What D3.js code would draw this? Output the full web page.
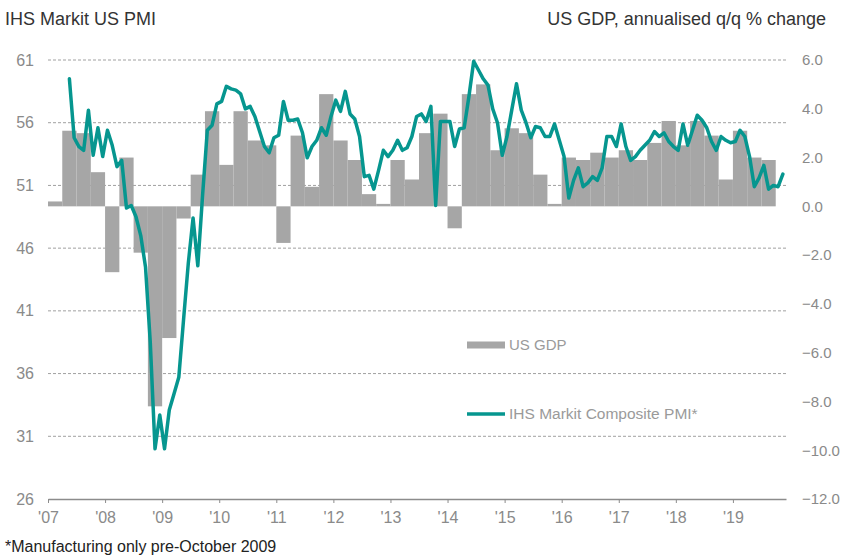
<!DOCTYPE html>
<html><head><meta charset="utf-8">
<script src="https://cdn.jsdelivr.net/npm/d3@7"></script>
<style>
body{margin:0;background:#fff;}
svg{font-family:"Liberation Sans",Arial,sans-serif;}
</style></head>
<body><svg id="c" width="844" height="556"></svg>
<script>
// ---- data ----
const yearLabels = ["'07","'08","'09","'10","'11","'12","'13","'14","'15","'16","'17","'18","'19"];
const leftTicks = [26,31,36,41,46,51,56,61];
const rightTicks = [6,4,2,0,-2,-4,-6,-8,-10,-12];
// US GDP, annualised q/q % change, quarterly from 2007 Q1
const gdpStart = 2007;
const gdpValues = [
  0.2, 3.1, 3.0, 1.4,
  -2.7, 2.0, -1.9, -8.2,
  -5.4, -0.5, 1.3, 3.9,
  1.7, 3.9, 2.7, 2.5,
  -1.5, 2.9, 0.8, 4.6,
  2.7, 1.9, 0.5, 0.1,
  1.9, 1.1, 3.0, 3.8,
  -0.9, 4.6, 5.0, 2.3,
  3.2, 3.0, 1.3, 0.1,
  2.0, 1.9, 2.2, 2.0,
  2.3, 1.9, 2.6, 3.5,
  2.5, 3.5, 2.9, 1.1,
  3.1, 2.0, 1.9
];
// IHS Markit Composite PMI (manufacturing only pre-Oct 2009), monthly from May 2007
const pmiStartYear = 2007, pmiStartMonth = 4;
const pmiValues = [
  59.5, 54.8, 54.1, 53.8, 57.0, 53.4, 55.6, 53.3,
  55.4, 54.2, 52.5, 53.0, 49.2, 49.4, 48.5, 47.0, 44.5, 38.5, 30.0, 32.7,
  30.0, 33.1, 34.4, 35.7, 40.3, 44.8, 48.4, 44.6, 50.2, 55.4, 55.8, 57.5,
  57.7, 58.9, 58.7, 58.6, 58.3, 57.1, 57.3, 56.5, 55.3, 54.1, 53.6, 54.8,
  55.0, 57.7, 56.2, 56.2, 56.3, 55.2, 53.2, 54.1, 54.6, 55.6, 55.0, 56.5,
  57.8, 56.9, 58.5, 56.7, 56.3, 54.9, 51.7, 51.8, 50.7, 52.2, 53.8, 53.3,
  53.8, 54.6, 53.8, 54.0, 54.9, 56.5, 56.7, 56.1, 57.3, 49.4, 56.1, 56.1,
  56.1, 54.1, 55.5, 55.6, 58.1, 60.9, 60.2, 59.5, 59.0, 57.1, 56.0, 53.4,
  54.9, 57.0, 59.1, 57.0, 56.0, 54.8, 55.7, 55.6, 54.9, 54.9, 55.9, 54.6,
  53.3, 50.0, 51.4, 52.4, 50.9, 51.2, 51.7, 51.4, 52.4, 54.9, 54.9, 54.1,
  55.9, 54.1, 53.0, 53.3, 53.8, 54.2, 54.6, 55.3, 54.9, 55.2, 54.5, 54.1,
  53.8, 55.9, 54.2, 55.4, 56.6, 56.2, 55.6, 54.5, 53.8, 54.9, 54.6, 54.4,
  54.5, 55.4, 54.9, 53.3, 50.9, 51.6, 52.6, 50.7, 51.0, 50.9, 51.9
];
const titleLeft = "IHS Markit US PMI";
const titleRight = "US GDP, annualised q/q % change";
const footnote = "*Manufacturing only pre-October 2009";
const legendGdp = "US GDP";
const legendPmi = "IHS Markit Composite PMI*";

// ---- chart ----
const svg = d3.select("#c");
const pLeft = 48, pRight = 786, pTop = 60, pBottom = 499;
const x = d3.scaleLinear().domain([2007, 2019.93]).range([pLeft, pRight]);
const yL = d3.scaleLinear().domain([26, 61]).range([pBottom, pTop]);
const yR = d3.scaleLinear().domain([-12, 6]).range([pBottom, pTop]);
const teal = "#06968f", barCol = "#a6a6a6", labCol = "#8a8a8a";

// gridlines
svg.append("g").selectAll("line").data(leftTicks.filter(d => d > 26)).join("line")
  .attr("x1", pLeft).attr("x2", pRight)
  .attr("y1", d => yL(d)).attr("y2", d => yL(d))
  .attr("stroke", "#a0a0a0").attr("stroke-width", 1).attr("stroke-dasharray", "3,2");

// GDP bars
const gdp = gdpValues.map((v, i) => ({t: gdpStart + i / 4, v}));
svg.append("g").selectAll("rect").data(gdp).join("rect")
  .attr("x", d => x(d.t))
  .attr("width", d => x(d.t + 0.25) - x(d.t))
  .attr("y", d => yR(Math.max(0, d.v)))
  .attr("height", d => Math.abs(yR(d.v) - yR(0)))
  .attr("fill", barCol);

// PMI line
const pmi = pmiValues.map((v, i) => ({t: pmiStartYear + (pmiStartMonth + i + 0.5) / 12, v}));
svg.append("path").datum(pmi)
  .attr("d", d3.line().x(d => x(d.t)).y(d => yL(d.v)))
  .attr("fill", "none").attr("stroke", teal).attr("stroke-width", 3.5)
  .attr("stroke-linejoin", "round").attr("stroke-linecap", "round");

// x axis
const xAxis = d3.axisBottom(x)
  .tickValues(d3.range(2007, 2020))
  .tickFormat((d, i) => yearLabels[i])
  .tickSizeInner(4).tickSizeOuter(0).tickPadding(9);
const gx = svg.append("g").attr("transform", `translate(0,${pBottom})`).call(xAxis);
gx.select(".domain").attr("stroke", "#8c8c8c").attr("stroke-width", 1.5);
gx.selectAll(".tick line").attr("stroke", "#8c8c8c");
gx.selectAll(".tick text").attr("fill", labCol).attr("font-size", 16)
  .attr("font-family", "Liberation Sans, Arial, sans-serif");

// left axis labels
const yAxisL = d3.axisLeft(yL).tickValues(leftTicks).tickSize(0).tickPadding(14);
const gl = svg.append("g").attr("transform", `translate(${pLeft},0)`).call(yAxisL);
gl.select(".domain").remove();
gl.selectAll(".tick text").attr("fill", labCol).attr("font-size", 16)
  .attr("font-family", "Liberation Sans, Arial, sans-serif");

// right axis labels (left aligned)
const yAxisR = d3.axisRight(yR).tickValues(rightTicks).tickFormat(d3.format(".1f")).tickSize(0).tickPadding(16);
const gr = svg.append("g").attr("transform", `translate(${pRight},0)`).call(yAxisR);
gr.select(".domain").remove();
gr.selectAll(".tick text").attr("fill", labCol).attr("font-size", 15)
  .attr("font-family", "Liberation Sans, Arial, sans-serif");

// titles
svg.append("text").attr("x", 5).attr("y", 25).text(titleLeft)
  .attr("font-size", 18).attr("fill", "#333");
svg.append("text").attr("x", 826).attr("y", 25).attr("text-anchor", "end").text(titleRight)
  .attr("font-size", 18).attr("fill", "#333");
svg.append("text").attr("x", 5).attr("y", 552).text(footnote)
  .attr("font-size", 16).attr("fill", "#222");

// legend
const lg = svg.append("g");
lg.append("line").attr("x1", 467).attr("x2", 505).attr("y1", 345).attr("y2", 345)
  .attr("stroke", barCol).attr("stroke-width", 7);
lg.append("text").attr("x", 509).attr("y", 350).text(legendGdp)
  .attr("font-size", 15).attr("fill", "#9a9a9a");
lg.append("line").attr("x1", 467).attr("x2", 505).attr("y1", 414).attr("y2", 414)
  .attr("stroke", teal).attr("stroke-width", 3.5);
lg.append("text").attr("x", 509).attr("y", 419).text(legendPmi)
  .attr("font-size", 15.5).attr("fill", "#9a9a9a");
</script></body></html>
